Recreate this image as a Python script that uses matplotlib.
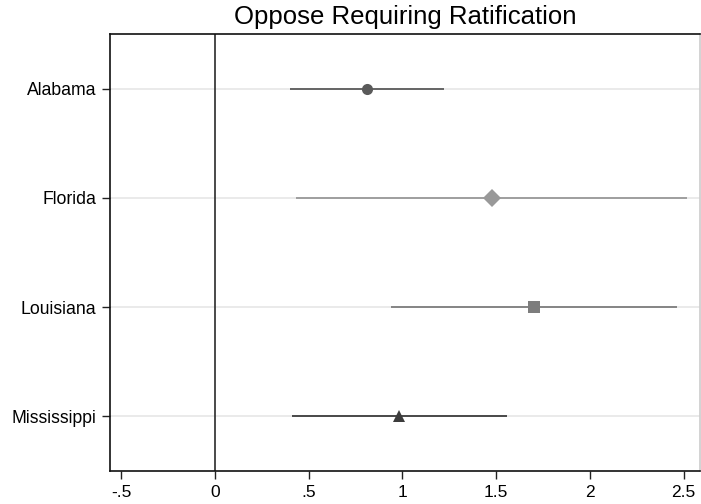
import matplotlib
matplotlib.use("Agg")
import matplotlib.pyplot as plt

plt.rcParams["font.family"] = ["Liberation Sans", "DejaVu Sans"]

states = ["Alabama", "Florida", "Louisiana", "Mississippi"]
estimates = [0.81, 1.475, 1.70, 0.983]
ci_low = [0.402, 0.430, 0.937, 0.411]
ci_high = [1.222, 2.519, 2.466, 1.555]
x_ticks = [-0.5, 0, 0.5, 1, 1.5, 2, 2.5]
x_tick_labels = ["-.5", "0", ".5", "1", "1.5", "2", "2.5"]

markers = ["o", "D", "s", "^"]
marker_sizes = [8, 9.5, 8, 8.5]
colors = ["#5a5a5a", "#999999", "#7d7d7d", "#3c3c3c"]

fig = plt.figure(figsize=(7.01, 5.04), dpi=100)
ax = fig.add_axes([110 / 701, 1 - 471 / 504, 590 / 701, 437 / 504])

ypos = list(range(1, len(states) + 1))
for y in ypos:
    ax.axhline(y, color="#e4e4e4", linewidth=1.1, zorder=0)
ax.axvline(0, color="#2a2a2a", linewidth=1.2, zorder=1)

for i, y in enumerate(ypos):
    ax.plot([ci_low[i], ci_high[i]], [y, y], color=colors[i], linewidth=1.3,
            solid_capstyle="butt", zorder=2)
    ax.plot(estimates[i], y, marker=markers[i], markersize=marker_sizes[i],
            color=colors[i], markeredgewidth=0, linestyle="none", zorder=3)

ax.set_xlim(-0.56, 2.587)
ax.set_ylim(4.5, 0.5)
ax.set_xticks(x_ticks)
ax.set_xticklabels(x_tick_labels)
ax.set_yticks(ypos)
ax.set_yticklabels(states)
ax.tick_params(axis="both", length=6, width=1.0, color="#222222", labelsize=12.5, pad=4)
ax.tick_params(axis="y", labelsize=12.7)

for side in ["left", "right", "top", "bottom"]:
    ax.spines[side].set_color("#111111")
    ax.spines[side].set_linewidth(1.2)
ax.spines["right"].set_color("#cccccc")

ax.set_title("Oppose Requiring Ratification", fontsize=18.5, pad=7)

fig.savefig("out.png", dpi=100)
